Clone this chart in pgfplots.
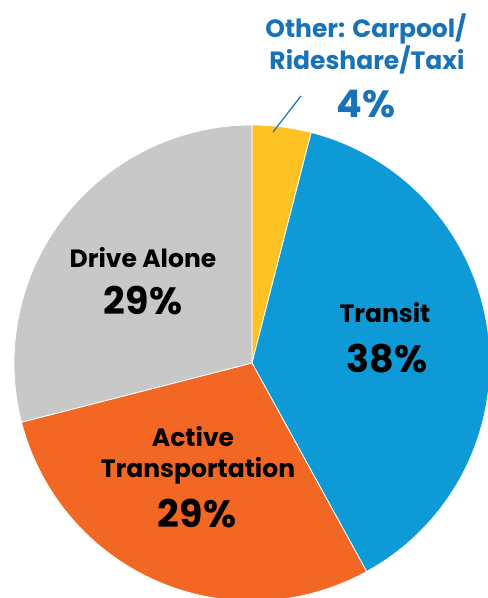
\documentclass[border=0pt]{standalone}
\usepackage{pgfplots}
\pgfplotsset{compat=1.18}
\usepackage{fontspec}
\setmainfont{Poppins}
\definecolor{cyel}{RGB}{255,194,36}
\definecolor{cblue}{RGB}{14,154,215}
\definecolor{corange}{RGB}{242,103,36}
\definecolor{cgray}{RGB}{200,200,200}
\definecolor{ctext}{RGB}{24,114,184}
% shares (percent), clockwise from 12 o'clock
\def\vOther{4}
\def\vTransit{38}
\def\vActive{29}
\def\vDrive{29}
\pgfmathsetmacro{\aA}{90}
\pgfmathsetmacro{\aB}{\aA-3.6*\vOther}
\pgfmathsetmacro{\aC}{\aB-3.6*\vTransit}
\pgfmathsetmacro{\aD}{\aC-3.6*\vActive}
\pgfmathsetmacro{\aE}{\aD-3.6*\vDrive}
\begin{document}
\begin{tikzpicture}
\useasboundingbox (0,0) rectangle (488pt,598pt);
\clip (0,0) rectangle (488pt,598pt);
\begin{axis}[at={(0,0)},anchor=south west,scale only axis,width=488pt,height=598pt,
  xmin=0,xmax=488,ymin=0,ymax=598,hide axis,clip=true]
\def\R{238pt}
\fill[cyel,draw=white,line width=0.8pt] (axis cs:252,235) -- ++(\aA:\R) arc[start angle=\aA,end angle=\aB,radius=\R] -- cycle;
\fill[cblue,draw=white,line width=0.8pt] (axis cs:252,235) -- ++(\aB:\R) arc[start angle=\aB,end angle=\aC,radius=\R] -- cycle;
\fill[corange,draw=white,line width=0.8pt] (axis cs:252,235) -- ++(\aC:\R) arc[start angle=\aC,end angle=\aD,radius=\R] -- cycle;
\fill[cgray,draw=white,line width=0.8pt] (axis cs:252,235) -- ++(\aD:\R) arc[start angle=\aD,end angle=\aE,radius=\R] -- cycle;
\draw[ctext,line width=1.2pt] (axis cs:273,466) -- (axis cs:301,502);
\node[anchor=base,text=ctext,font=\bfseries\fontsize{25}{30}\selectfont] at (axis cs:366,560) {Other: Carpool/};
\node[anchor=base,text=ctext,font=\bfseries\fontsize{25}{30}\selectfont] at (axis cs:367,528) {Rideshare/Taxi};
\node[anchor=base,text=ctext,font=\bfseries\fontsize{38}{44}\selectfont] at (axis cs:366,480) {4\%};
\node[anchor=base,font=\bfseries\fontsize{25}{30}\selectfont] at (axis cs:143,330) {Drive Alone};
\node[anchor=base,font=\bfseries\fontsize{38}{44}\selectfont] at (axis cs:143,283) {29\%};
\node[anchor=base,font=\bfseries\fontsize{25}{30}\selectfont] at (axis cs:385,275) {Transit};
\node[anchor=base,font=\bfseries\fontsize{38}{44}\selectfont] at (axis cs:387,225) {38\%};
\node[anchor=base,font=\bfseries\fontsize{25}{30}\selectfont] at (axis cs:193,151) {Active};
\node[anchor=base,font=\bfseries\fontsize{25}{30}\selectfont] at (axis cs:198,120) {Transportation};
\node[anchor=base,font=\bfseries\fontsize{38}{44}\selectfont] at (axis cs:197,70) {29\%};
\end{axis}
\end{tikzpicture}
\end{document}
